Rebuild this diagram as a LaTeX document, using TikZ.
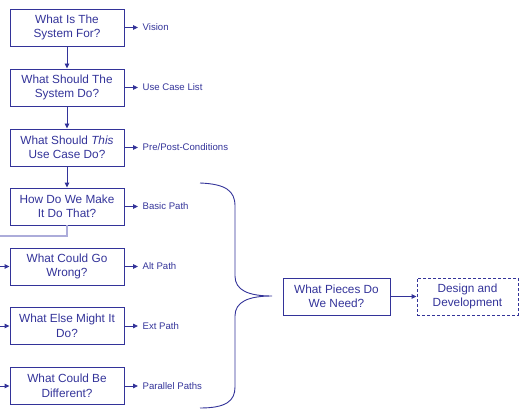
\documentclass[tikz,border=0pt]{standalone}
\usepackage{fontspec}
\setmainfont{Liberation Sans}
\usetikzlibrary{arrows.meta}
\definecolor{ink}{RGB}{51,51,153}
\definecolor{railink}{RGB}{172,172,218}
\begin{document}
\begin{tikzpicture}[x=1pt,y=-1pt,
  qbox/.style={draw=ink, line width=0.9pt, minimum width=114pt, minimum height=37pt,
    inner sep=0pt, align=center, text=ink, font=\fontsize{11.8}{14.5}\selectfont},
  outlabel/.style={anchor=west, text=ink, font=\fontsize{9.6}{11}\selectfont,
    inner xsep=4.5pt, inner ysep=0pt},
  flow/.style={draw=ink, line width=0.9pt, -{Triangle[length=5pt,width=4.5pt]}},
  rail/.style={draw=railink, line width=1.3pt},
]
\useasboundingbox (0,0) rectangle (519,409);

% question boxes down the left column
\node[qbox] (q1) at (67,27.5)  {What Is The\\System For?};
\node[qbox] (q2) at (67,87.5)  {What Should The\\System Do?};
\node[qbox] (q3) at (67,147.5) {What Should \textit{This}\\Use Case Do?};
\node[qbox] (q4) at (67,206.5) {How Do We Make\\It Do That?};
\node[qbox] (q5) at (67,266.5) {What Could Go\\Wrong?};
\node[qbox] (q6) at (67,326)   {What Else Might It\\Do?};
\node[qbox] (q7) at (67,386)   {What Could Be\\Different?};

% outputs of each question
\node[outlabel] (o1) at (138,27.5)  {Vision};
\node[outlabel] (o2) at (138,87.5)  {Use Case List};
\node[outlabel] (o3) at (138,147.5) {Pre/Post-Conditions};
\node[outlabel] (o4) at (138,206.5) {Basic Path};
\node[outlabel] (o5) at (138,266.5) {Alt Path};
\node[outlabel] (o6) at (138,326)   {Ext Path};
\node[outlabel] (o7) at (138,386)   {Parallel Paths};

\foreach \i in {1,...,7} \draw[flow] (q\i.east) -- (o\i.west);

% main sequence
\draw[flow] (q1.south) -- (q2.north);
\draw[flow] (q2.south) -- (q3.north);
\draw[flow] (q3.south) -- (q4.north);

% return rail along the left edge
\coordinate (railtop) at (0,236);
\coordinate (r5) at (0,266.5);
\coordinate (r6) at (0,326);
\coordinate (r7) at (0,386);
\draw[rail] (q4.south) |- (railtop);
\draw[flow] (r5) -- (q5.west);
\draw[flow] (r6) -- (q6.west);
\draw[flow] (r7) -- (q7.west);

% brace gathering the paths
\coordinate (bracetip) at (272,296);
\draw[ink, line width=0.9pt]
  (200,183) .. controls (226,184) and (235,191) .. (235,206)
  -- (235,276) .. controls (235,290) and (248,296) .. (bracetip)
  .. controls (248,296) and (235,302) .. (235,316)
  -- (235,387) .. controls (235,401) and (226,408) .. (200,408);

% design stage
\node[qbox, minimum width=107pt] (q8) at (336.5,296.5) {What Pieces Do\\We Need?};
\node[qbox, minimum width=101pt, dash pattern=on 3pt off 2pt] (q9) at (467.5,296.5) {Design and\\Development};
\draw[flow] (q8.east) -- (q9.west);
\end{tikzpicture}
\end{document}
